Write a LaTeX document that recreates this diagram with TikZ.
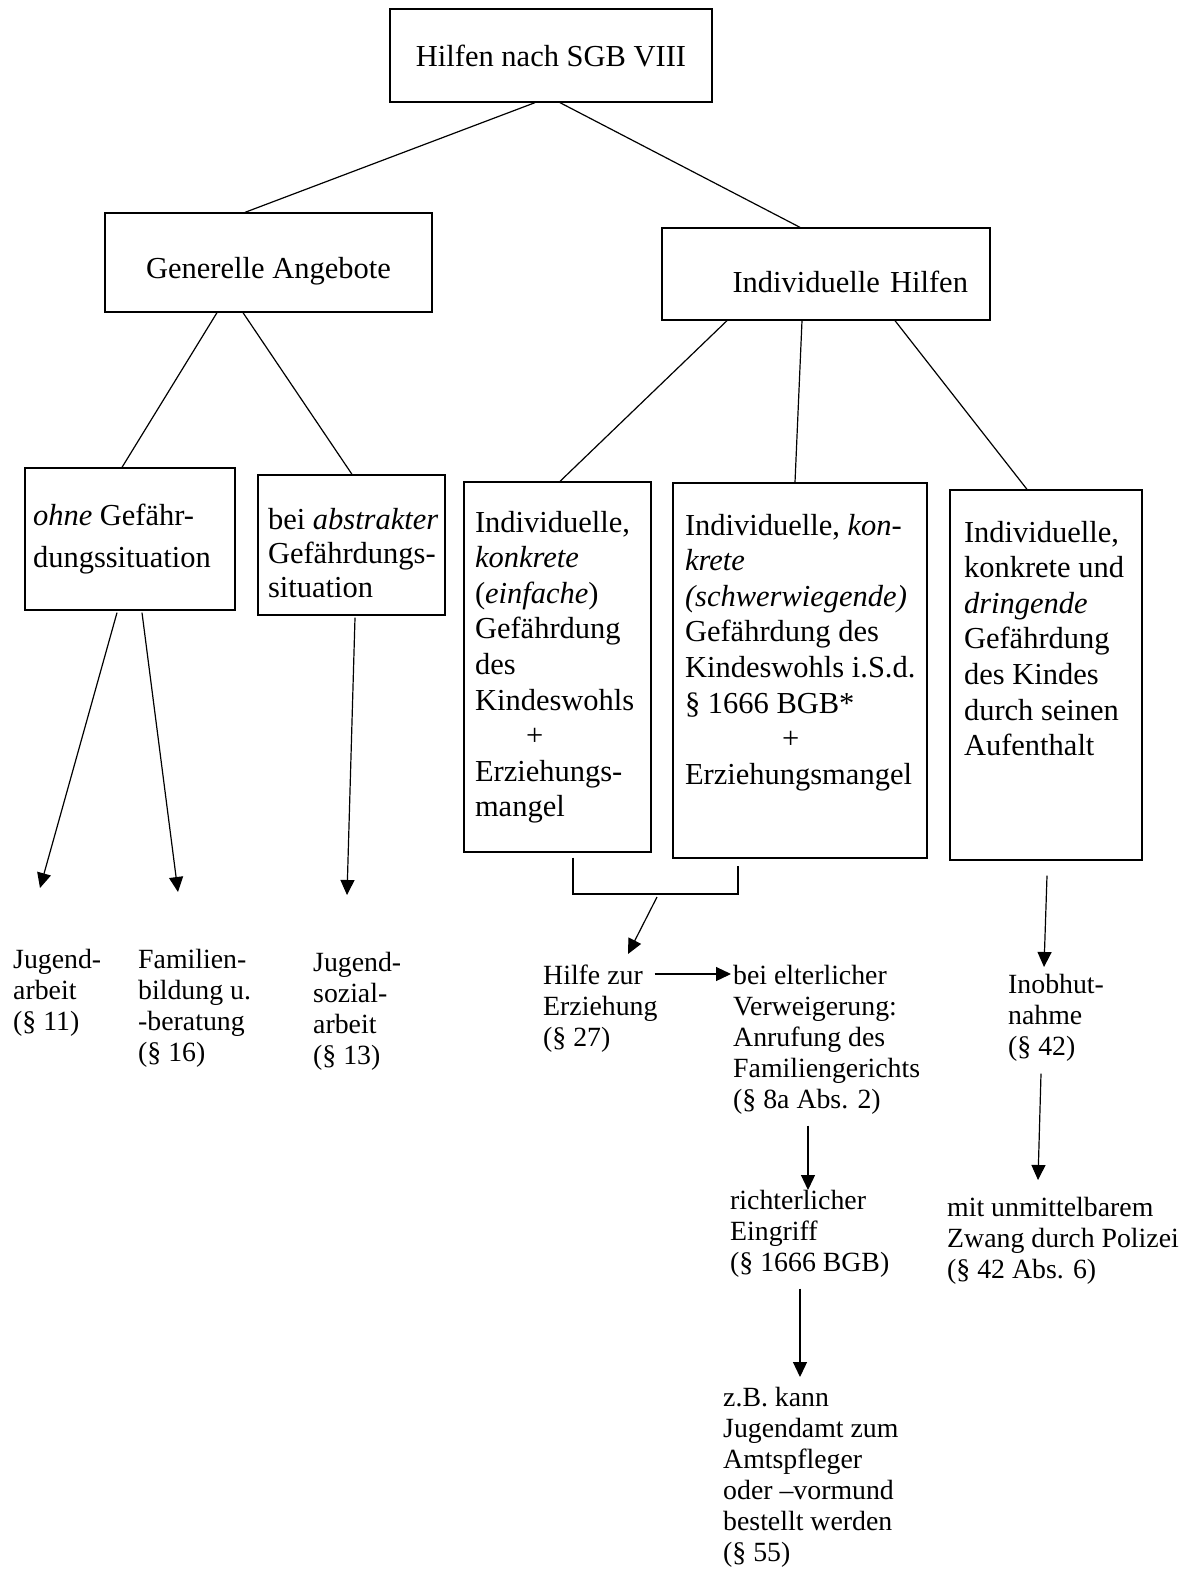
\documentclass[tikz,border=0pt]{standalone}
\usepackage{fontspec}
\setmainfont{Liberation Serif}
\usetikzlibrary{arrows.meta}
\newcommand{\kastenschrift}{\fontsize{30.5}{35.6}\selectfont}
\newcommand{\hinweisschrift}{\fontsize{27.8}{31}\selectfont}
\tikzset{
  kasten/.style={draw, line width=1.3pt, inner sep=0pt, font=\kastenschrift},
  hinweis/.style={inner sep=0pt, align=left, anchor=north west, font=\hinweisschrift},
  verbindung/.style={line width=1.2pt},
  pfeil/.style={line width=1.2pt, -{Triangle[length=15pt,width=14pt]}}
}
\begin{document}
\begin{tikzpicture}[x=1pt,y=-1pt]
	\useasboundingbox (0,0) rectangle (1194,1576);

	% obere Ebenen
	\node[kasten, minimum width=322pt, minimum height=93pt] (hilfen) at (551,55.5) {Hilfen nach SGB VIII};
	\node[kasten, minimum width=327pt, minimum height=99pt, text height=31pt, text depth=0pt] (generell) at (268.5,262.5) {Generelle Angebote};
	\node[kasten, text width=284pt, inner xsep=22pt, align=right, minimum height=92pt, text height=36pt, text depth=0pt] (individuell) at (826,274) {Individuelle Hilfen};

	% Kaesten der dritten Ebene
	\node[kasten, font=\fontsize{30.5}{42}\selectfont] (ohne) at (130,539) {\parbox[c][142pt][t]{210pt}{\raggedright\leftskip=8pt\rule{0pt}{57pt}\textit{ohne} Gefähr-\\dungssituation}};
	\node[kasten, font=\fontsize{30.5}{34}\selectfont] (abstrakt) at (351.5,545) {\parbox[c][140pt][t]{187pt}{\raggedright\leftskip=10pt\rule{0pt}{54pt}bei~\textit{abstrakter}\\Gefährdungs-\\situation}};
	\node[kasten] (einfach) at (557.5,667) {\parbox[c][370pt][t]{187pt}{\raggedright\leftskip=11pt\rule{0pt}{50pt}Individuelle,\\\textit{konkrete}\\(\textit{einfache})\\Gefährdung\\des\\Kindeswohls\\\hspace*{51pt}+\\Erziehungs-\\mangel}};
	\node[kasten] (schwer) at (800,670.5) {\parbox[c][375pt][t]{254pt}{\raggedright\leftskip=12pt\rule{0pt}{52pt}Individuelle,~\textit{kon-}\\\textit{krete}\\\textit{(schwerwiegende)}\\Gefährdung des\\Kindeswohls~i.S.d.\\§~1666 BGB*\\\hspace*{97pt}+\\Erziehungsmangel}};
	\node[kasten] (dringend) at (1046,675) {\parbox[c][370pt][t]{192pt}{\raggedright\leftskip=14pt\rule{0pt}{52pt}Individuelle,\\konkrete~und\\\textit{dringende}\\Gefährdung\\des~Kindes\\durch~seinen\\Aufenthalt}};

	\draw[verbindung] ([shift={(-16,0)}]hilfen.south) -- ([shift={(-23.5,0)}]generell.north);
	\draw[verbindung] ([shift={(9,0)}]hilfen.south) -- ([shift={(-26,0)}]individuell.north);
	\draw[verbindung] ([shift={(-51.5,0)}]generell.south) -- ([shift={(-8,0)}]ohne.north);
	\draw[verbindung] ([shift={(-25.5,0)}]generell.south) -- ([shift={(0.5,0)}]abstrakt.north);
	\draw[verbindung] ([shift={(-99,0)}]individuell.south) -- ([shift={(2.5,0)}]einfach.north);
	\draw[verbindung] ([shift={(-24,0)}]individuell.south) -- ([shift={(-5,0)}]schwer.north);
	\draw[verbindung] ([shift={(69,0)}]individuell.south) -- ([shift={(-19,0)}]dringend.north);

	% Leistungen
	\node[hinweis] (jugend) at (13,949) {Jugend-\\arbeit\\(§ 11)};
	\node[hinweis] (familie) at (138,949) {Familien-\\bildung u.\\-beratung\\(§ 16)};
	\node[hinweis] (sozial) at (313,952) {Jugend-\\sozial-\\arbeit\\(§ 13)};
	\node[hinweis] (hilfezur) at (543,965) {Hilfe zur\\Erziehung\\(§ 27)};
	\node[hinweis] (verweigerung) at (733,965) {bei elterlicher\\Verweigerung:\\Anrufung des\\Familiengerichts\\(§ 8a Abs. 2)};
	\node[hinweis] (inobhut) at (1008,974) {Inobhut-\\nahme\\(§ 42)};
	\node[hinweis] (eingriff) at (730,1190) {richterlicher\\Eingriff\\(§ 1666 BGB)};
	\node[hinweis] (polizei) at (947,1197) {mit unmittelbarem\\Zwang durch Polizei\\(§ 42 Abs. 6)};
	\node[hinweis] (vormund) at (723,1387) {z.B. kann\\Jugendamt zum\\Amtspfleger\\oder --vormund\\bestellt werden\\(§ 55)};

	\draw[pfeil] ([shift={(-13,2)}]ohne.south) -- ([shift={(27,-61)}]jugend.north west);
	\draw[pfeil] ([shift={(12,2)}]ohne.south) -- ([shift={(40,-57)}]familie.north west);
	\draw[pfeil] ([shift={(3.5,2)}]abstrakt.south) -- ([shift={(34,-57)}]sozial.north west);

	% Klammer unter den beiden Kaesten
	\coordinate (klammer) at (656,894);
	\draw[verbindung] ([shift={(15.5,5)}]einfach.south) |- (klammer) -| ([shift={(-62,7)}]schwer.south);
	\draw[pfeil] ([shift={(1,3)}]klammer) -- ([shift={(85,-11)}]hilfezur.north west);

	\draw[pfeil] ([shift={(-3,9)}]hilfezur.north east) -- ([shift={(-2,9)}]verweigerung.north west);
	\draw[pfeil] ([shift={(75,11)}]verweigerung.south west) -- ([shift={(78,0)}]eingriff.north west);
	\draw[pfeil] ([shift={(70,11)}]eingriff.south west) -- ([shift={(77,-10)}]vormund.north west);
	\draw[pfeil] ([shift={(1,15)}]dringend.south) -- ([shift={(36,-7)}]inobhut.north west);
	\draw[pfeil] ([shift={(33,12)}]inobhut.south west) -- ([shift={(91,-17)}]polizei.north west);
\end{tikzpicture}
\end{document}
